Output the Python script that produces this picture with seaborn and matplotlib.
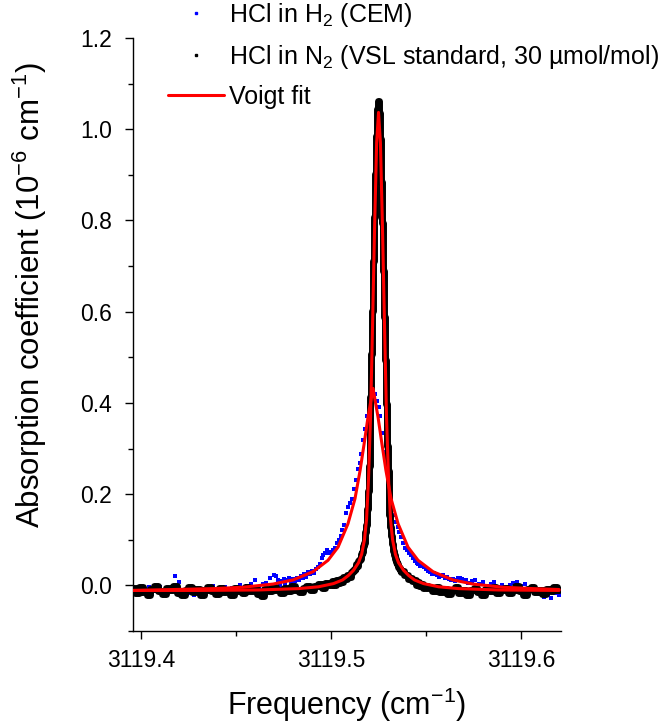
import matplotlib
matplotlib.use("Agg")
import matplotlib.pyplot as plt
from matplotlib.lines import Line2D
from matplotlib.ticker import MultipleLocator, FormatStrFormatter, FixedLocator
import seaborn as sns
import pandas as pd

# ---------------- data ----------------
# HCl in H2 (CEM) -- measured points
h2_freq = [
    3119.396, 3119.398, 3119.400, 3119.402, 3119.404, 3119.406, 3119.408, 3119.410, 3119.412, 3119.414,
    3119.416, 3119.418, 3119.420, 3119.422, 3119.424, 3119.426, 3119.428, 3119.430, 3119.432, 3119.434,
    3119.436, 3119.438, 3119.440, 3119.442, 3119.444, 3119.446, 3119.448, 3119.450, 3119.452, 3119.454,
    3119.456, 3119.458, 3119.460, 3119.462, 3119.464, 3119.466, 3119.468, 3119.470,
    3119.471, 3119.472, 3119.473, 3119.474, 3119.475, 3119.476, 3119.477, 3119.478, 3119.479, 3119.480,
    3119.481, 3119.482, 3119.483, 3119.484, 3119.485, 3119.486, 3119.487, 3119.488, 3119.489, 3119.490,
    3119.491, 3119.492, 3119.493, 3119.494, 3119.495, 3119.496, 3119.497, 3119.498, 3119.499, 3119.500,
    3119.501, 3119.502, 3119.503, 3119.504, 3119.505, 3119.506, 3119.507, 3119.508, 3119.509, 3119.510,
    3119.511, 3119.512, 3119.513, 3119.514, 3119.515, 3119.516, 3119.517, 3119.518, 3119.519, 3119.520,
    3119.521, 3119.522, 3119.523, 3119.524, 3119.525, 3119.526, 3119.527, 3119.528, 3119.529, 3119.530,
    3119.531, 3119.532, 3119.533, 3119.534, 3119.535, 3119.536, 3119.537, 3119.538, 3119.539, 3119.540,
    3119.541, 3119.542, 3119.543, 3119.544, 3119.545, 3119.546, 3119.547, 3119.548, 3119.549, 3119.550,
    3119.551, 3119.552, 3119.553, 3119.554, 3119.555, 3119.556, 3119.557, 3119.558, 3119.559, 3119.560,
    3119.561, 3119.562, 3119.563, 3119.564, 3119.565, 3119.566, 3119.567, 3119.568, 3119.569, 3119.570,
    3119.571,
    3119.572, 3119.574, 3119.576, 3119.578, 3119.580, 3119.582, 3119.584, 3119.586, 3119.588, 3119.590,
    3119.592, 3119.594, 3119.596, 3119.598, 3119.600, 3119.602, 3119.604, 3119.606, 3119.608, 3119.610,
    3119.612, 3119.614, 3119.616, 3119.618, 3119.620,
]
h2_absorb = [
    -0.014, -0.006, -0.018, -0.009, -0.003, -0.015, -0.012, -0.004, -0.019, -0.008,
    -0.013, 0.020, 0.008, -0.010, -0.019, -0.017, -0.020, -0.015, -0.009, -0.007,
    -0.012, -0.002, -0.014, -0.009, -0.004, -0.016, -0.006, -0.010, 0.002, -0.008,
    -0.001, 0.004, 0.011, -0.004, 0.003, 0.006, 0.016, 0.022,
    0.020, 0.012, 0.001, 0.009, 0.014, 0.004, 0.011, 0.016, 0.006, 0.013,
    0.009, 0.017, 0.012, 0.021, 0.016, 0.024, 0.019, 0.029, 0.024, 0.032,
    0.028, 0.036, 0.041, 0.048, 0.061, 0.066, 0.072, 0.078, 0.070, 0.074,
    0.077, 0.082, 0.092, 0.100, 0.108, 0.121, 0.133, 0.158, 0.172, 0.181,
    0.190, 0.212, 0.232, 0.255, 0.268, 0.289, 0.318, 0.342, 0.371, 0.394,
    0.412, 0.428, 0.420, 0.405, 0.392, 0.372, 0.335, 0.292, 0.262, 0.228,
    0.196, 0.170, 0.155, 0.140, 0.128, 0.118, 0.106, 0.094, 0.083, 0.078,
    0.072, 0.066, 0.060, 0.054, 0.050, 0.047, 0.043, 0.044, 0.040, 0.036,
    0.031, 0.030, 0.026, 0.027, 0.024, 0.022, 0.018, 0.021, 0.022, 0.017,
    0.019, 0.015, 0.012, 0.014, 0.009, 0.012, 0.016, 0.017, 0.013, 0.009,
    0.012,
    0.006, 0.010, 0.011, 0.004, 0.007, -0.002, 0.004, 0.008, -0.003, 0.002,
    -0.006, 0.001, 0.005, 0.007, -0.002, 0.003, -0.008, -0.004, -0.012, -0.019,
    -0.026, -0.021, -0.028, -0.017, -0.022,
]

# HCl in N2 (VSL standard, 30 umol/mol) -- measured points
n2_freq = [
    3119.396, 3119.398, 3119.400, 3119.402, 3119.404, 3119.406, 3119.408, 3119.410, 3119.412, 3119.414,
    3119.416, 3119.418, 3119.420, 3119.422, 3119.424, 3119.426, 3119.428, 3119.430, 3119.432, 3119.434,
    3119.436, 3119.438, 3119.440, 3119.442, 3119.444, 3119.446, 3119.448, 3119.450, 3119.452, 3119.454,
    3119.456, 3119.458, 3119.460, 3119.462, 3119.464, 3119.466, 3119.468, 3119.470, 3119.472, 3119.474,
    3119.476, 3119.478, 3119.480, 3119.482, 3119.484, 3119.486, 3119.488, 3119.490, 3119.492, 3119.494,
    3119.496, 3119.498, 3119.500,
    3119.501, 3119.502, 3119.503, 3119.504, 3119.505, 3119.506, 3119.507, 3119.508, 3119.509, 3119.510,
    3119.511, 3119.512, 3119.513,
    3119.5135, 3119.5140, 3119.5145, 3119.5150, 3119.5155, 3119.5160, 3119.5165, 3119.5170, 3119.5175,
    3119.5180, 3119.5185, 3119.5190, 3119.5195, 3119.5200, 3119.5205, 3119.5210, 3119.5215, 3119.5220,
    3119.5225, 3119.5230, 3119.5235, 3119.5240, 3119.5245, 3119.5250, 3119.5255, 3119.5260, 3119.5265,
    3119.5270, 3119.5275, 3119.5280, 3119.5285, 3119.5290, 3119.5295, 3119.5300, 3119.5305, 3119.5310,
    3119.5315, 3119.5320, 3119.5325, 3119.5330, 3119.5335, 3119.5340, 3119.5345, 3119.5350, 3119.5355,
    3119.5360, 3119.5365,
    3119.537, 3119.538, 3119.539, 3119.540, 3119.541, 3119.542, 3119.543, 3119.544, 3119.545, 3119.546,
    3119.547, 3119.548, 3119.549, 3119.550,
    3119.552, 3119.554, 3119.556, 3119.558, 3119.560, 3119.562, 3119.564, 3119.566, 3119.568, 3119.570,
    3119.572, 3119.574, 3119.576, 3119.578, 3119.580, 3119.582, 3119.584, 3119.586, 3119.588, 3119.590,
    3119.592, 3119.594, 3119.596, 3119.598, 3119.600, 3119.602, 3119.604, 3119.606, 3119.608, 3119.610,
    3119.612, 3119.614, 3119.616, 3119.618, 3119.620,
]
n2_absorb = [
    -0.006, -0.017, -0.004, -0.014, -0.021, -0.008, -0.002, -0.013, -0.019, -0.006,
    -0.011, -0.001, -0.016, -0.022, -0.009, -0.003, -0.014, -0.007, -0.020, -0.011,
    -0.003, -0.013, -0.018, -0.006, -0.015, -0.009, -0.021, -0.005, -0.012, -0.017,
    -0.004, -0.013, -0.008, -0.019, -0.023, -0.007, -0.013, -0.004, -0.010, -0.017,
    -0.006, -0.012, -0.002, -0.009, -0.015, -0.005, -0.001, -0.009, -0.002, 0.003,
    -0.005, 0.006, 0.000,
    0.009, 0.001, 0.011, 0.005, 0.014, 0.008, 0.018, 0.013, 0.023, 0.018,
    0.029, 0.033, 0.039,
    0.047, 0.042, 0.053, 0.055, 0.059, 0.068, 0.073, 0.086, 0.094,
    0.118, 0.132, 0.168, 0.208, 0.262, 0.322, 0.412, 0.508, 0.602,
    0.712, 0.808, 0.902, 0.985, 1.045, 1.062, 1.035, 0.978, 0.885,
    0.795, 0.690, 0.588, 0.495, 0.398, 0.305, 0.250, 0.198, 0.155,
    0.128, 0.108, 0.090, 0.076, 0.066, 0.058, 0.052, 0.046, 0.041,
    0.038, 0.034,
    0.030, 0.032, 0.023, 0.022, 0.014, 0.017, 0.009, 0.012, 0.002, 0.007,
    -0.002, 0.003, -0.006, -0.001,
    -0.005, -0.013, -0.003, -0.015, -0.008, -0.019, -0.010, -0.004, -0.016, -0.009,
    -0.020, -0.011, -0.005, -0.014, -0.021, -0.008, -0.012, -0.003, -0.017, -0.010,
    -0.006, -0.016, -0.011, -0.002, -0.013, -0.020, -0.008, -0.004, -0.015, -0.010,
    -0.018, -0.007, -0.013, -0.004, -0.011,
]

# Voigt fit curves
fit_n2_freq = [
    3119.396, 3119.4303, 3119.4619, 3119.4829, 3119.4934, 3119.5013, 3119.5061, 3119.5092, 3119.5118,
    3119.5145, 3119.5161, 3119.5176, 3119.5187, 3119.5197, 3119.5208, 3119.5218, 3119.5229, 3119.5240,
    3119.5250,
    3119.5260, 3119.5271, 3119.5282, 3119.5292, 3119.5303, 3119.5313, 3119.5324, 3119.5339, 3119.5355,
    3119.5382, 3119.5408, 3119.5439, 3119.5487, 3119.5566, 3119.5671, 3119.5881, 3119.620,
]
fit_n2_absorb = [
    -0.011, -0.011, -0.010, -0.007, -0.003, 0.004, 0.012, 0.022, 0.033,
    0.050, 0.068, 0.100, 0.145, 0.230, 0.370, 0.560, 0.780, 0.970,
    1.037,
    0.970, 0.780, 0.560, 0.370, 0.230, 0.145, 0.100, 0.068, 0.050,
    0.033, 0.022, 0.012, 0.004, -0.003, -0.007, -0.010, -0.011,
]
fit_h2_freq = [
    3119.396, 3119.4171, 3119.4379, 3119.4537, 3119.4695, 3119.4800, 3119.4905, 3119.4984,
    3119.5037, 3119.5089, 3119.5126, 3119.5153, 3119.5174, 3119.5195, 3119.5221,
    3119.5247, 3119.5268, 3119.5289, 3119.5316, 3119.5353, 3119.5405, 3119.5458, 3119.5537,
    3119.5642, 3119.5747, 3119.5905, 3119.6063, 3119.620,
]
fit_h2_absorb = [
    -0.011, -0.009, -0.007, -0.004, 0.003, 0.012, 0.030, 0.055,
    0.084, 0.135, 0.190, 0.252, 0.310, 0.370, 0.432,
    0.370, 0.310, 0.252, 0.190, 0.135, 0.084, 0.055, 0.030,
    0.012, 0.003, -0.004, -0.007, -0.009,
]

legend_labels = ["HCl in H$_2$ (CEM)",
                 "HCl in N$_2$ (VSL standard, 30 \u00b5mol/mol)",
                 "Voigt fit"]
x_ticks = [3119.4, 3119.5, 3119.6]
y_ticks = [0.0, 0.2, 0.4, 0.6, 0.8, 1.0, 1.2]

# ---------------- styling ----------------
sns.set_theme(style="ticks")
plt.rcParams["font.family"] = ["Liberation Sans", "DejaVu Sans"]
plt.rcParams["mathtext.fontset"] = "custom"
plt.rcParams["mathtext.rm"] = "Liberation Sans"
plt.rcParams["mathtext.it"] = "Liberation Sans:italic"
plt.rcParams["mathtext.default"] = "regular"

fig = plt.figure(figsize=(6.68, 7.27), dpi=100)
ax = fig.add_axes([0.1985, 0.132, 0.6413, 0.8157])

h2_df = pd.DataFrame({"freq": h2_freq, "absorb": h2_absorb})
n2_df = pd.DataFrame({"freq": n2_freq, "absorb": n2_absorb})
fn2_df = pd.DataFrame({"freq": fit_n2_freq, "absorb": fit_n2_absorb})
fh2_df = pd.DataFrame({"freq": fit_h2_freq, "absorb": fit_h2_absorb})

sns.scatterplot(data=h2_df, x="freq", y="absorb", ax=ax, color="#0000ff",
                marker="s", s=9, linewidth=0, legend=False, zorder=2)
sns.lineplot(data=n2_df, x="freq", y="absorb", ax=ax, color="black", lw=5.0,
             drawstyle="steps-mid", estimator=None, sort=False, zorder=3)
sns.lineplot(data=fh2_df, x="freq", y="absorb", ax=ax, color="#ff0000", lw=2.2,
             estimator=None, sort=False, zorder=4)
sns.lineplot(data=fn2_df, x="freq", y="absorb", ax=ax, color="#ff0000", lw=2.2,
             estimator=None, sort=False, zorder=5)

ax.set_xlim(3119.3956, 3119.621)
ax.set_ylim(-0.1, 1.2)
ax.xaxis.set_major_locator(FixedLocator(x_ticks))
ax.xaxis.set_minor_locator(MultipleLocator(0.05))
ax.yaxis.set_major_locator(FixedLocator(y_ticks))
ax.yaxis.set_minor_locator(MultipleLocator(0.1))
ax.xaxis.set_major_formatter(FormatStrFormatter("%.1f"))
ax.yaxis.set_major_formatter(FormatStrFormatter("%.1f"))

sns.despine(ax=ax)
for sp in ("left", "bottom"):
    ax.spines[sp].set_linewidth(1.0)
    ax.spines[sp].set_color("black")
ax.tick_params(which="major", direction="out", length=6, width=1.0, color="black",
               labelsize=16.5, labelcolor="black")
ax.tick_params(axis="y", which="major", pad=9)
ax.tick_params(axis="x", which="major", pad=7)
ax.tick_params(which="minor", direction="out", length=3.5, width=1.0, color="black")
ax.grid(False)

ax.set_xlabel("Frequency (cm$^{-1}$)", fontsize=22, color="black")
ax.set_ylabel("Absorption coefficient (10$^{-6}$ cm$^{-1}$)", fontsize=22.5, color="black")
ax.xaxis.set_label_coords(0.5, -0.093)
ax.yaxis.set_label_coords(-0.195, 0.567)

handles = [
    Line2D([], [], ls="", marker="s", ms=1.7, color="#0000ff"),
    Line2D([], [], ls="", marker="s", ms=2.1, color="black"),
    Line2D([], [], color="#ff0000", lw=2.2),
]
fig.legend(handles, legend_labels, loc="upper left",
           bbox_to_anchor=(168 / 668, 1 - 1 / 727), bbox_transform=fig.transFigure,
           frameon=False, fontsize=18, handlelength=2.25, handletextpad=0.2,
           labelspacing=0.56, borderpad=0.0, borderaxespad=0.0, labelcolor="black")

fig.savefig("out.png", dpi=100)
